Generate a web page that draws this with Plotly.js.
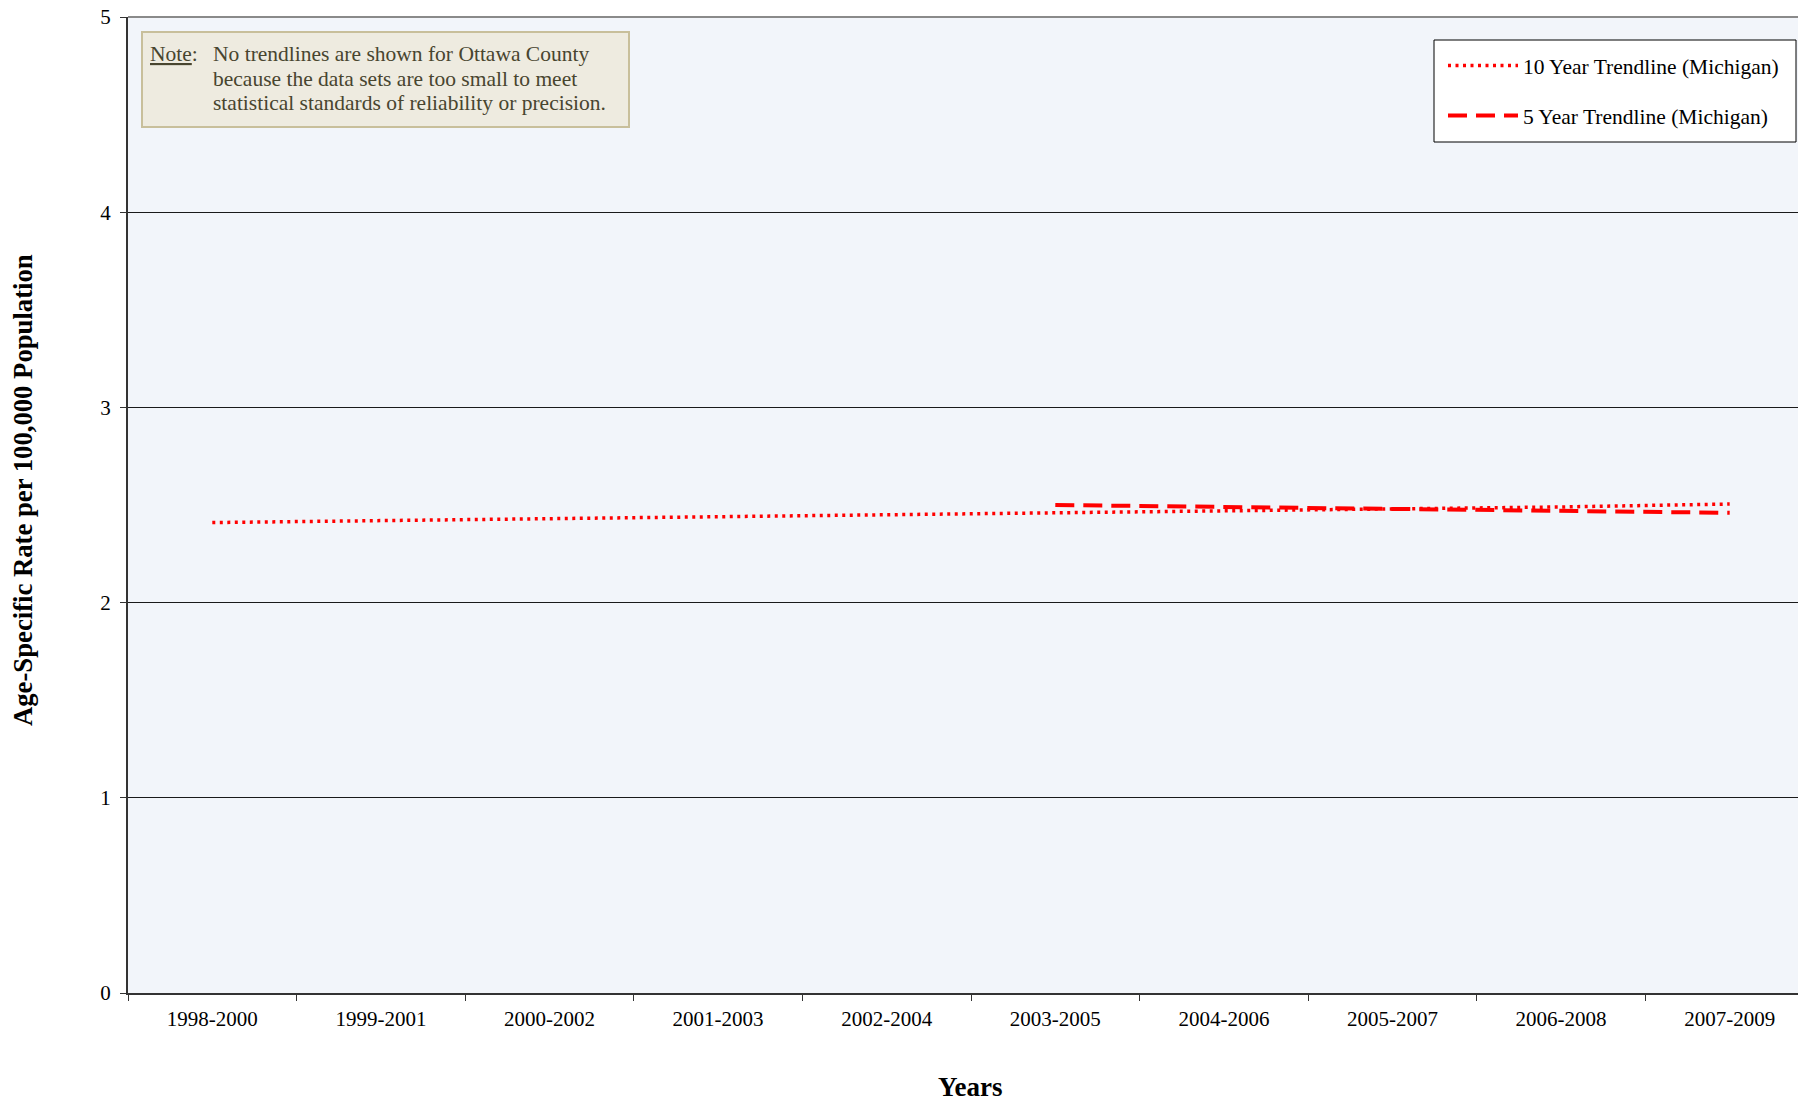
<!DOCTYPE html>
<html>
<head>
<meta charset="utf-8">
<script src="https://cdn.plot.ly/plotly-3.0.1.min.js"></script>
<style>
html,body{margin:0;padding:0;background:#fff;}
#chart{width:1798px;height:1101px;}
</style>
</head>
<body>
<div id="chart"></div>
<script>
// ---- data ----
var periods = ["1998-2000","1999-2001","2000-2002","2001-2003","2002-2004","2003-2005","2004-2006","2005-2007","2006-2008","2007-2009"];
var tenYearPeriods = periods;
var tenYearValues = [2.41, 2.42, 2.43, 2.44, 2.45, 2.46, 2.47, 2.48, 2.49, 2.505];
var fiveYearPeriods = ["2003-2005","2004-2006","2005-2007","2006-2008","2007-2009"];
var fiveYearValues = [2.50, 2.49, 2.48, 2.47, 2.46];
var yTicks = [0, 1, 2, 3, 4, 5];
var seriesNames = ["10 Year Trendline (Michigan)", "5 Year Trendline (Michigan)"];
var xTitle = "Years";
var yTitle = "Age-Specific Rate per 100,000 Population";
var noteLabel = "Note";
var noteLines = ["No trendlines are shown for Ottawa County",
                 "because the data sets are too small to meet",
                 "statistical standards of reliability or precision."];

// ---- layout helpers (pixel -> paper) ----
var W = 1798, H = 1101;
var mL = 128, mR = 0, mT = 17, mB = 108;
var pw = W - mL - mR, ph = H - mT - mB;
function px(x){ return (x - mL) / pw; }
function py(y){ return (H - mB - y) / ph; }

var FONT = '"Liberation Serif", "Times New Roman", Times, serif';
var NOTE_COLOR = '#48452F';

var traces = [
  {
    x: fiveYearPeriods, y: fiveYearValues, type: 'scatter', mode: 'lines',
    name: seriesNames[1], legendrank: 2, legendgroup: 'b',
    line: {color: '#FF0000', width: 4, dash: '19px,9px'},
    hoverinfo: 'skip'
  },
  {
    x: tenYearPeriods, y: tenYearValues, type: 'scatter', mode: 'lines',
    name: seriesNames[0], legendrank: 1, legendgroup: 'a',
    line: {color: '#FF0000', width: 3.5, dash: '3px,4.5px'},
    hoverinfo: 'skip'
  }
];

var annotations = [
  {xref:'paper', yref:'paper', x: px(148), y: py(54), xanchor:'left', yanchor:'middle',
   text:'<u>' + noteLabel + '</u>:', showarrow:false, font:{family:FONT, size:21.5, color:NOTE_COLOR}},
  {xref:'paper', yref:'paper', x: px(23), y: py(490), xanchor:'center', yanchor:'middle', textangle:-90,
   text:'<b>' + yTitle + '</b>', showarrow:false, font:{family:FONT, size:26.7, color:'#000'}},
  {xref:'paper', yref:'paper', x: px(970), y: py(1087), xanchor:'center', yanchor:'middle',
   text:'<b>' + xTitle + '</b>', showarrow:false, font:{family:FONT, size:27, color:'#000'}}
];
noteLines.forEach(function(t, i){
  annotations.push({xref:'paper', yref:'paper', x: px(211), y: py(54 + i*24.7), xanchor:'left', yanchor:'middle',
    text: t, showarrow:false, font:{family:FONT, size:21.5, color:NOTE_COLOR}});
});

var layout = {
  width: W, height: H,
  margin: {l: mL, r: mR, t: mT, b: mB, pad: 0},
  paper_bgcolor: '#FFFFFF',
  plot_bgcolor: '#F2F5FA',
  font: {family: FONT, size: 21, color: '#000'},
  showlegend: true,
  legend: {
    x: px(1443), y: py(45), xanchor: 'left', yanchor: 'top',
    bgcolor: 'rgba(0,0,0,0)', borderwidth: 0,
    font: {family: FONT, size: 21.5, color: '#000'},
    traceorder: 'grouped', tracegroupgap: 19, itemwidth: 70
  },
  xaxis: {
    type: 'category', categoryorder: 'array', categoryarray: periods,
    range: [-0.5, -0.5 + pw / 168.6],
    showline: true, linecolor: '#333', linewidth: 2,
    ticks: 'outside', tickson: 'boundaries', ticklen: 6, tickcolor: '#333', tickwidth: 1,
    showgrid: false, zeroline: false,
    tickfont: {family: FONT, size: 21, color: '#000'},
    ticklabelstandoff: 6,
    fixedrange: true
  },
  yaxis: {
    range: [0, 5], tickvals: yTicks, ticktext: yTicks.map(String),
    showline: true, linecolor: '#333', linewidth: 2,
    ticks: 'outside', ticklen: 6, tickcolor: '#333', tickwidth: 1,
    showgrid: true, gridcolor: '#1a1a1a', gridwidth: 1,
    zeroline: false,
    tickfont: {family: FONT, size: 21, color: '#000'},
    ticklabelstandoff: 5,
    fixedrange: true
  },
  shapes: [
    {type:'line', xref:'paper', yref:'paper', x0:0, x1:1, y0:1, y1:1, line:{color:'#8a8a8a', width:2}},
    {type:'rect', xref:'paper', yref:'paper', x0: px(142), x1: px(629), y0: py(32), y1: py(127),
     fillcolor:'#EEEBE0', line:{color:'#C8BF9B', width:2}, layer:'above'},
    {type:'rect', xref:'paper', yref:'paper', x0: px(1434), x1: px(1796), y0: py(40), y1: py(142),
     fillcolor:'#FFFFFF', line:{color:'#000000', width:1}, layer:'above'}
  ],
  annotations: annotations
};

Plotly.newPlot('chart', traces, layout, {staticPlot: true, displayModeBar: false});
</script>
</body>
</html>
